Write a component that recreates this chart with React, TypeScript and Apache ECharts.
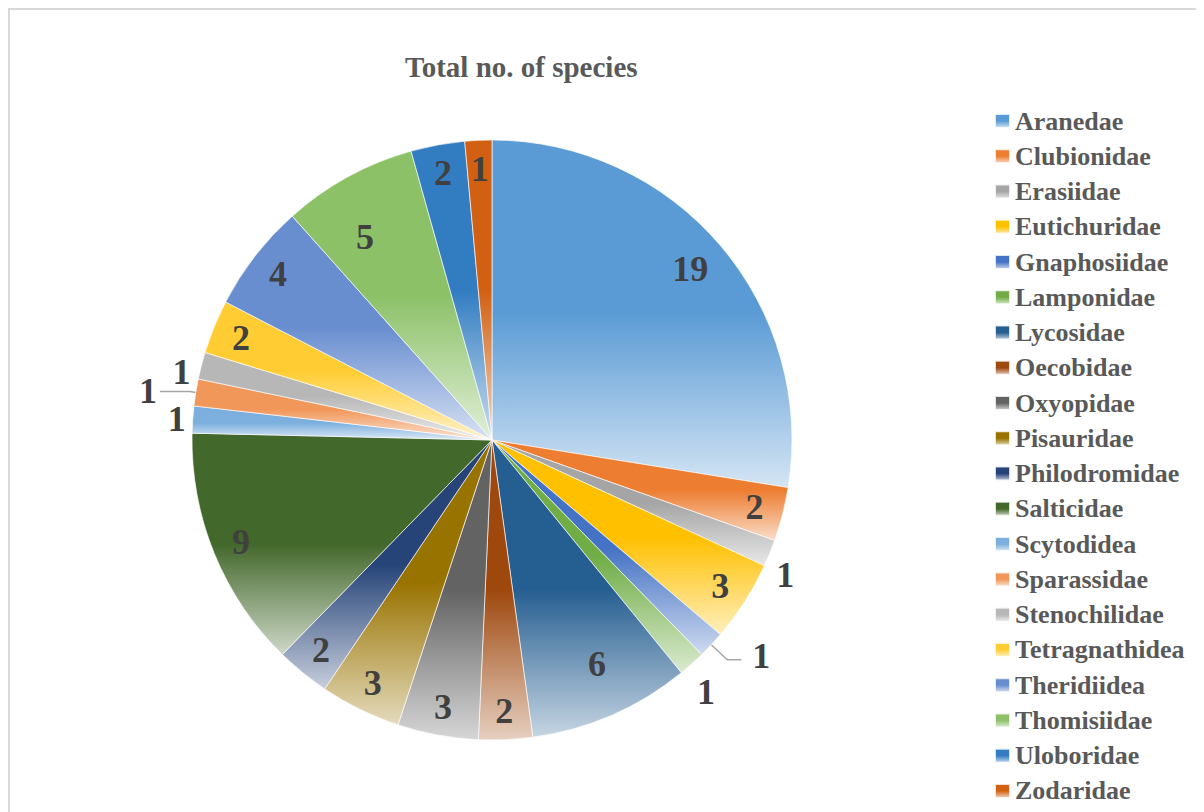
import React, { useEffect, useRef } from "react";
import * as echarts from "echarts";

const titleText = "Total no. of species";
const families = [
  "Aranedae", "Clubionidae", "Erasiidae", "Eutichuridae", "Gnaphosiidae",
  "Lamponidae", "Lycosidae", "Oecobidae", "Oxyopidae", "Pisauridae",
  "Philodromidae", "Salticidae", "Scytodidea", "Sparassidae", "Stenochilidae",
  "Tetragnathidea", "Theridiidea", "Thomisiidae", "Uloboridae", "Zodaridae",
];
const speciesCounts = [19, 2, 1, 3, 1, 1, 6, 2, 3, 3, 2, 9, 1, 1, 1, 2, 4, 5, 2, 1];
const sliceColors = [
  "#5B9BD5", "#ED7D31", "#A5A5A5", "#FFC000", "#4472C4",
  "#70AD47", "#255E91", "#9E480E", "#636363", "#997300",
  "#264478", "#43682B", "#7CAFDD", "#F1975A", "#B7B7B7",
  "#FFCD33", "#698ED0", "#8CC168", "#327DC2", "#D26012",
];
// labels drawn outside the pie: [showLine, length, length2]
const outsideLabels: Record<string, [boolean, number, number]> = {
  Erasiidae: [false, 6, 0],
  Gnaphosiidae: [true, 22, 14],
  Lamponidae: [false, 14, 0],
  Scytodidea: [false, 4, 0],
  Sparassidae: [true, 6, 30],
  Stenochilidae: [false, 8, 0],
};
// small label nudges (Excel "best fit" placement)
const labelNudges: Record<string, [number, number]> = {
  Erasiidae: [-2, 20],
  Lamponidae: [-7, 18],
  Stenochilidae: [0, 8],
  Lycosidae: [-3, -25],
  Thomisiidae: [3, 35],
  Aranedae: [-8, 5],
  Gnaphosiidae: [8, -4],
};

function lighten(hex: string, t: number) {
  const n = parseInt(hex.slice(1), 16);
  const r = (n >> 16) & 255, g = (n >> 8) & 255, b = n & 255;
  const m = (v: number) => Math.round(v + (255 - v) * t);
  return `rgb(${m(r)},${m(g)},${m(b)})`;
}
function grad(c: string) {
  return {
    type: "linear", x: 0, y: 0, x2: 0, y2: 1,
    colorStops: [
      { offset: 0, color: c },
      { offset: 0.5, color: c },
      { offset: 1, color: lighten(c, 0.74) },
    ],
  };
}

const FONT = "Liberation Serif";

export default function App() {
  const ref = useRef<HTMLDivElement>(null);
  useEffect(() => {
    if (!ref.current) return;
    const chart = echarts.init(ref.current, null, { renderer: "svg" });
    const labelStyle = {
      color: "#404040",
      fontSize: 36,
      fontWeight: "bold",
      fontFamily: FONT,
      formatter: "{c}",
    };
    const center = [482, 430];
    const nudge = (p: any) => {
      const n = labelNudges[families[p.dataIndex]];
      return n ? { dx: n[0], dy: n[1] } : {};
    };
    chart.setOption({
      animation: false,
      title: {
        text: titleText,
        left: 390,
        top: 37,
        textStyle: { color: "#595959", fontSize: 29, fontWeight: "bold", fontFamily: FONT },
      },
      legend: {
        orient: "vertical",
        left: 979,
        top: 93,
        icon: "rect",
        itemWidth: 15,
        itemHeight: 14,
        itemGap: 9.26,
        data: families,
        textStyle: { color: "#595959", fontSize: 26, lineHeight: 26, fontWeight: "bold", fontFamily: FONT },
      },
      series: [
        {
          type: "pie",
          center,
          radius: 300,
          startAngle: 90,
          clockwise: true,
          avoidLabelOverlap: false,
          itemStyle: { borderColor: "rgba(255,255,255,0.8)", borderWidth: 0.8 },
          label: { show: false },
          labelLine: { show: false },
          labelLayout: nudge,
          emphasis: { disabled: true },
          data: families.map((name, i) => {
            const o = outsideLabels[name];
            return {
              name,
              value: speciesCounts[i],
              itemStyle: { color: grad(sliceColors[i]) },
              label: o ? { show: true, position: "outside", distanceToLabelLine: 3, ...labelStyle } : { show: false },
              labelLine: o
                ? { show: o[0], length: o[1], length2: o[2], lineStyle: { color: "#a6a6a6", width: 1.5 } }
                : { show: false },
            };
          }),
        },
        {
          type: "pie",
          center,
          radius: [236, 300],
          startAngle: 90,
          clockwise: true,
          silent: true,
          avoidLabelOverlap: false,
          itemStyle: { color: "rgba(0,0,0,0)" },
          label: { show: true, position: "inside", ...labelStyle },
          labelLine: { show: false },
          labelLayout: nudge,
          emphasis: { disabled: true },
          data: families.map((name, i) => ({
            name,
            value: speciesCounts[i],
            label: { show: !outsideLabels[name] },
          })),
        },
      ],
    });
    return () => chart.dispose();
  }, []);
  return (
    <div
      style={{
        width: 1196,
        height: 804,
        boxSizing: "border-box",
        borderTop: "2px solid #d9d9d9",
        borderLeft: "2px solid #d9d9d9",
        background: "#fff",
      }}
    >
      <div ref={ref} style={{ width: 1194, height: 802 }} />
    </div>
  );
}
